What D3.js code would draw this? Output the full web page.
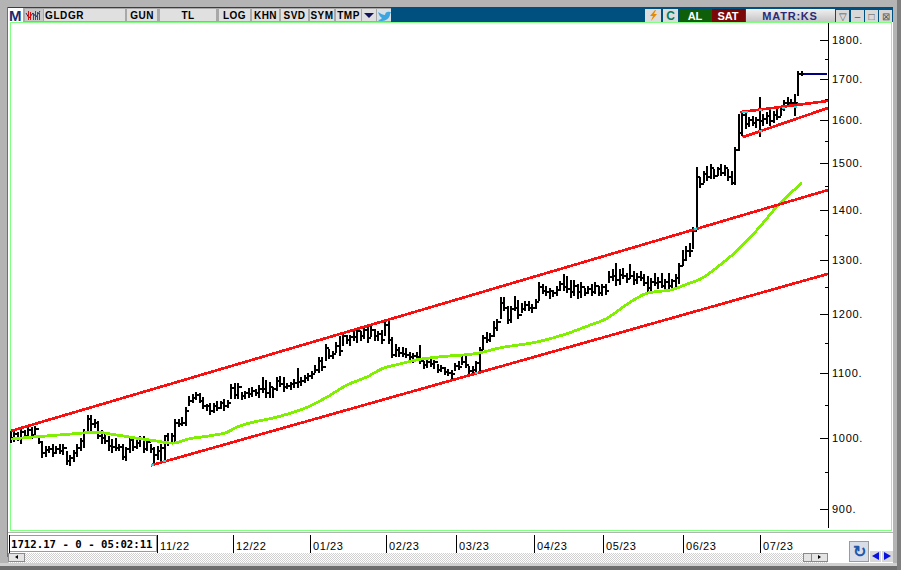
<!DOCTYPE html>
<html><head><meta charset="utf-8">
<script src="https://cdnjs.cloudflare.com/ajax/libs/d3/7.8.5/d3.min.js"></script>
<style>html,body{margin:0;padding:0;background:#fff;overflow:hidden}svg{display:block}text{font-family:"Liberation Sans",Arial,sans-serif}</style>
</head><body><svg id="c" width="901" height="570"></svg>
<script>
const highs=[
1008,1010,1007,1011,1010,1014,1014,1016,1002,994,
986,986,990,986,990,989,979,974,980,989,
998,1011,1032,1032,1026,1023,1010,1004,1001,997,
998,990,989,985,1001,1000,997,1001,1001,997,
990,985,986,990,1003,1005,1005,1026,1026,1029,
1045,1062,1065,1068,1067,1060,1049,1051,1051,1054,
1054,1057,1056,1081,1083,1083,1068,1070,1075,1076,
1073,1079,1092,1087,1084,1076,1092,1094,1092,1083,
1084,1089,1107,1092,1095,1099,1102,1112,1125,1125,
1147,1138,1135,1150,1160,1167,1163,1163,1169,1174,
1169,1178,1176,1178,1172,1169,1170,1184,1186,1159,
1147,1142,1142,1140,1133,1131,1133,1145,1118,1122,
1122,1120,1113,1112,1108,1105,1103,1115,1118,1129,
1127,1110,1110,1118,1142,1162,1167,1166,1186,1190,
1229,1229,1213,1213,1231,1224,1218,1222,1222,1216,
1226,1257,1253,1249,1245,1242,1249,1259,1272,1268,
1260,1260,1253,1257,1245,1249,1253,1257,1249,1253,
1253,1277,1281,1293,1281,1283,1274,1291,1277,1274,
1277,1272,1268,1264,1274,1266,1274,1262,1274,1262,
1272,1293,1318,1325,1331,1363,1490,1468,1481,
1492,1497,1485,1490,1497,1495,1485,1481,1535,1611,
1618,1615,1604,1606,1604,1652,1611,1615,1623,1618,
1625,1628,1645,1652,1647,1660,1717,1717];
const lows=[
994,995,997,992,1000,1001,1000,1002,992,972,
973,979,974,978,978,976,962,960,966,974,
982,986,1007,1011,1016,1000,992,992,982,979,
982,982,969,968,979,982,985,988,979,982,
979,960,969,965,965,989,992,992,1017,1019,
1019,1049,1054,1059,1054,1045,1042,1036,1039,1042,
1045,1042,1046,1060,1060,1060,1059,1060,1062,1063,
1065,1062,1070,1062,1062,1062,1073,1079,1071,1076,
1075,1078,1078,1081,1086,1089,1092,1102,1102,1105,
1122,1125,1125,1135,1130,1147,1150,1147,1155,1152,
1155,1159,1152,1162,1155,1155,1150,1164,1150,1126,
1128,1129,1129,1127,1122,1118,1122,1117,1108,1110,
1112,1108,1102,1103,1099,1097,1092,1105,1107,1115,
1110,1100,1099,1100,1102,1140,1152,1154,1162,1172,
1193,1207,1184,1186,1207,1193,1204,1207,1207,1204,
1211,1226,1238,1235,1229,1233,1235,1244,1244,1240,
1231,1235,1229,1231,1235,1238,1235,1238,1235,1235,
1236,1259,1262,1253,1255,1266,1259,1266,1255,1257,
1262,1253,1242,1242,1253,1247,1249,1244,1247,1245,
1249,1257,1291,1300,1308,1323,1361,1449,1459,
1463,1468,1468,1474,1474,1474,1463,1455,1455,1530,
1564,1580,1585,1587,1583,1562,1587,1592,1587,1595,
1601,1611,1623,1633,1633,1611,1660,1710];
const closes=[
1000,1006,999,1008,1003,1012,1004,1013,994,978,
982,983,978,984,981,985,966,970,977,985,
995,1007,1028,1020,1022,1003,999,995,988,986,
985,987,972,984,997,986,992,998,984,993,
983,975,980,985,1002,992,1002,1022,1020,1022,
1040,1056,1060,1065,1056,1048,1048,1040,1048,1045,
1052,1048,1052,1077,1065,1078,1063,1068,1066,1072,
1068,1075,1075,1068,1078,1074,1088,1082,1078,1080,
1082,1085,1086,1088,1092,1096,1099,1106,1120,1110,
1142,1129,1132,1146,1136,1162,1156,1160,1160,1170,
1162,1172,1158,1172,1162,1166,1156,1182,1155,1130,
1138,1134,1132,1130,1126,1128,1126,1120,1114,1118,
1115,1118,1106,1108,1102,1100,1098,1112,1110,1118,
1114,1104,1106,1116,1138,1158,1156,1162,1176,1186,
1220,1211,1190,1210,1212,1198,1210,1216,1211,1212,
1222,1250,1242,1240,1242,1238,1244,1255,1250,1246,
1240,1252,1240,1250,1238,1246,1240,1252,1238,1250,
1243,1268,1270,1262,1272,1270,1264,1270,1262,1268,
1266,1256,1248,1258,1256,1258,1252,1258,1252,1260,
1266,1288,1300,1318,1318,1358,1470,1455,1476,
1470,1490,1472,1488,1478,1490,1470,1458,1530,1570,
1610,1590,1600,1592,1600,1598,1602,1608,1596,1610,
1606,1625,1640,1640,1640,1640,1712,1712];

const maIndex=[0,6.3,16,24.6,29,35,41.7,46.3,50.6,57,61.7,64.6,68.3,76,84.6,90.3,96,101.7,106.3,111,116,122.6,133.4,139.7,150.3,157.7,165.4,170.3,174.9,181.7,189.1,194,196.9,202.6,207.7,213.1,219.7,226];
const maValue=[998,1001,1005,1008,1005,1000,995,992,998,1003,1008,1016,1022,1031,1046,1062,1081,1094,1108,1115,1122,1127,1133,1142,1152,1164,1181,1193,1213,1238,1245,1257,1264,1291,1320,1359,1414,1457];

const channelLines=[
 {i:[0,233.43],p:[1010,1442]},
 {i:[40,233.43],p:[960,1274]},
 {i:[208.3,233.43],p:[1618,1645]},
 {i:[209,233.43],p:[1559,1628]}];
const touchIndex=[40.3,43.7,132.9,195.4,209.1,210,214,214,220.6,224];
const touchValue=[961,966,1100,1361,1618,1618,1623,1574,1628,1630];

const lastPrice=1712.17;
const majorTicks=[900,1000,1100,1200,1300,1400,1500,1600,1700,1800];
const minorTicks=[950,1050,1150,1250,1350,1450,1550,1650,1750];
const monthLabels=["11/22","12/22","01/23","02/23","03/23","04/23","05/23","06/23","07/23"];
const monthIndex=[41.7,63.4,85.4,107.1,127.1,149.4,169.1,192,214];
const leftButtons=[["GUN",127,157],["TL",160,216],["LOG",219,250],["KHN",252,279],["SVD",281,308],["SYM",310,334],["TMP",336,361]];

const svg=d3.select("#c");
const x=d3.scaleLinear().domain([0,233.43]).range([11,828]);
const y=d3.scaleLog().domain([900,1800]).range([509,40]);
const rect=(g,a,b,w,h,f,s)=>g.append("rect").attr("x",a).attr("y",b).attr("width",w).attr("height",h).attr("fill",f).attr("stroke",s||"none").attr("shape-rendering","crispEdges");
const txt=(g,a,b,t,o={})=>g.append("text").attr("x",a).attr("y",b).text(t).attr("font-size",o.size||11).attr("font-weight",o.w||"normal").attr("fill",o.c||"#000").attr("text-anchor",o.a||"start").attr("letter-spacing",o.ls||0).style("font-family",o.f||null);

// window chrome
const ch=svg.append("g");
rect(ch,0,0,901,570,"#b4b4b4");
rect(ch,8,7,885,556,"#ffffff");
rect(ch,7,7,1,550,"#6f6f6f");
rect(ch,8,7,885,15,"#00507f");
rect(ch,0,563,901,3,"#d0d0d0");
rect(ch,0,566,901,4,"#6e6e6e");
rect(ch,897,0,4,570,"#7e7e7e");
rect(ch,8,8,383,14,"#a8a8a8");

// toolbar left
rect(ch,8,8,15,14,"#fff");
txt(ch,9,21,"M",{size:15,w:"bold",c:"#1c2a6e"});
rect(ch,25,9,18,12,"#c8c8c8");
ch.append("path").attr("d","M26 13l3 5 4-5 3 4 4-6").attr("fill","none").attr("stroke","#1c2a6e");
[28,30,33,35,37,39].forEach((a,k)=>rect(ch,a,11+(k%3),1,9-(k%3),"#d01010"));
rect(ch,44,9,81,12,"#e0e0e0");
txt(ch,45,19,"GLDGR",{size:10,w:"bold",ls:.6});
leftButtons.forEach(b=>{rect(ch,b[1],9,b[2]-b[1],12,"#e0e0e0");txt(ch,(b[1]+b[2])/2,19,b[0],{size:10,w:"bold",a:"middle",ls:.5});});
rect(ch,362,9,14,12,"#e0e0e0");
ch.append("path").attr("d","M364 13h10l-5 5z").attr("fill","#14145a");
rect(ch,377,9,14,12,"#d8e0e8");
ch.append("path").attr("d","M378 12c3 2 5 3 7 3 0-3 3-4 5-3l1 0-1 2c0 4-4 7-8 7-2 0-3 0-4-1 2 0 3-1 4-2-2-1-3-3-4-6z").attr("fill","#3da5e0");

// toolbar right
rect(ch,645,9,16,13,"#dcdcdc");
ch.append("path").attr("d","M655 10l-5 6h3l-2 5 6-7h-3l2-4z").attr("fill","#e68a00");
rect(ch,663,9,15,13,"#dcdcdc");
txt(ch,670.5,20,"C",{size:12,w:"bold",c:"#0a7a5a",a:"middle"});
rect(ch,680,9,31,13,"#0f5e0a");
txt(ch,695,20,"AL",{size:11,w:"bold",c:"#fff",a:"middle"});
rect(ch,712,9,33,13,"#7a0808");
txt(ch,728,20,"SAT",{size:11,w:"bold",c:"#fff",a:"middle"});
const gr=svg.append("defs").append("linearGradient").attr("id","mg").attr("x1",0).attr("x2",0).attr("y1",0).attr("y2",1);
gr.append("stop").attr("offset",0).attr("stop-color","#f0f0f0");
gr.append("stop").attr("offset",1).attr("stop-color","#c4c4c4");
rect(ch,746,9,89,13,"url(#mg)");
txt(ch,790,20,"MATR:KS",{size:11,w:"bold",c:"#2a2a78",a:"middle",ls:.8});
[[836,"▽"],[851,"–"],[865,"□"],[879,"⊠"]].forEach(b=>{rect(ch,b[0],10,13,12,"#d8d8d8");txt(ch,b[0]+6.5,20,b[1],{size:10,c:"#555",a:"middle"});});

// plot frame
rect(ch,10.5,22.5,881,508,"#fff","#80ff80");
rect(ch,8,532,885,1,"#b4b4b4");

// y axis
const ax=svg.append("g").attr("transform","translate(828,0)");
const major=d3.axisRight(y).tickValues(majorTicks).tickFormat(d=>d+".").tickSizeInner(-8).tickSizeOuter(0).tickPadding(4);
const minor=d3.axisRight(y).tickValues(minorTicks).tickFormat("").tickSizeInner(-3).tickSizeOuter(0);
ax.call(major);ax.select(".domain").remove();
ax.selectAll("text").attr("font-size",11).attr("fill","#000").attr("letter-spacing",.7).style("font-family",'"Liberation Sans",Arial,sans-serif');
ax.selectAll("line").attr("stroke","#000").attr("shape-rendering","crispEdges");
const ax2=svg.append("g").attr("transform","translate(828,0)").call(minor);
ax2.select(".domain").remove();
ax2.selectAll("line").attr("stroke","#000").attr("shape-rendering","crispEdges");
rect(svg,827.5,23,1,505,"#000");

const plot=svg.append("g");
// bars
const bars=plot.append("g").attr("stroke","#000").attr("stroke-width",2.4).attr("shape-rendering","crispEdges");
highs.forEach((h,i)=>{
  const px=Math.round(x(i));
  bars.append("line").attr("x1",px).attr("x2",px).attr("y1",y(h)-1).attr("y2",y(lows[i])+1);
  const cy=Math.round(y(closes[i]));
  bars.append("line").attr("x1",px).attr("x2",px+2).attr("y1",cy).attr("y2",cy);
  if(i>0){const oy=Math.round(y(closes[i-1]));bars.append("line").attr("x1",px-2).attr("x2",px).attr("y1",oy).attr("y2",oy);}
});
const thick=(g,d,c,w)=>g.append("path").attr("d",d).attr("fill","none").attr("stroke",c).attr("stroke-width",w).attr("shape-rendering","crispEdges");
const lineFn=d3.line().x(d=>x(d[0])).y(d=>y(d[1]));
const maFn=d3.line().x(d=>x(d[0])).y(d=>y(d[1])).curve(d3.curveMonotoneX);
thick(plot,maFn(maIndex.map((m,k)=>[m,maValue[k]])),"#80f000",2.8);
channelLines.forEach(l=>thick(plot,lineFn(l.i.map((a,k)=>[a,l.p[k]])),"#f81010",2.7));
// last price
const lastStart=226.7;
plot.append("line").attr("x1",x(lastStart)).attr("x2",827).attr("y1",Math.round(y(lastPrice))).attr("y2",Math.round(y(lastPrice))).attr("stroke","#000080").attr("stroke-width",2).attr("shape-rendering","crispEdges");
// touch points
touchIndex.forEach((t,k)=>rect(plot,Math.round(x(t))-1,Math.round(y(touchValue[k]))-1,3,2,"#20d8e0"));

// bottom
const bt=svg.append("g");
rect(bt,9,535.5,147,16,"#fff","#9a9a9a");
rect(bt,8.5,535,1,18,"#000");
txt(bt,11,548,"1712.17 - 0 - 05:02:11",{size:10.7,w:"bold",f:'"DejaVu Sans Mono",monospace'});
monthIndex.forEach((m,k)=>{
  const px=Math.round(x(m));
  rect(bt,px,535,1,18,"#000");
  txt(bt,px+3,550,monthLabels[k],{size:11,ls:.6});
});
// scrollbar
const pat=svg.select("defs").append("pattern").attr("id","dz").attr("width",2).attr("height",2).attr("patternUnits","userSpaceOnUse");
pat.append("rect").attr("width",2).attr("height",2).attr("fill","#fff");
pat.append("rect").attr("width",1).attr("height",1).attr("fill","#d0d0d0");
pat.append("rect").attr("x",1).attr("y",1).attr("width",1).attr("height",1).attr("fill","#d0d0d0");
rect(bt,8,553,820,10,"url(#dz)");
rect(bt,8.5,553.5,16,8,"#e4e4e4","#8a8a8a");
bt.append("path").attr("d","M18 555v4l-3-2z").attr("fill","#000");
rect(bt,803.5,553.5,8,8,"#e4e4e4","#8a8a8a");
rect(bt,811.5,553.5,16,8,"#e4e4e4","#8a8a8a");
bt.append("path").attr("d","M818 555v4l3-2z").attr("fill","#000");
rect(bt,849.5,541.5,19,20,"#d8dde8","#9a9a9a");
txt(bt,859,557,"↻",{size:16,w:"bold",c:"#1e58a8",a:"middle"});
rect(bt,870,551,11,11,"#d8d8d8");rect(bt,882,551,11,11,"#d8d8d8");
bt.append("path").attr("d","M879 552v8l-7-4z").attr("fill","#0a10e0");
bt.append("path").attr("d","M884 552v8l7-4z").attr("fill","#0a10e0");
</script></body></html>
